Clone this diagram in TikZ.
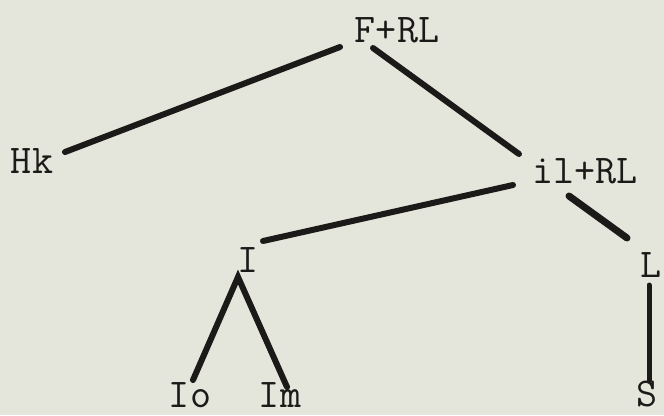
\documentclass[tikz,border=0pt]{standalone}
\usetikzlibrary{calc}
\definecolor{paper}{RGB}{228,230,219}
\definecolor{ink}{RGB}{28,26,24}
\begin{document}
\begin{tikzpicture}[x=1bp,y=-1bp,
  lab/.style={inner sep=0pt,anchor=base,text=ink,font=\fontsize{41}{41}\selectfont\ttfamily},
  edge/.style={draw=ink,line width=6bp,line cap=round}]
\fill[paper] (0,0) rectangle (664,415);
\useasboundingbox (0,0) rectangle (664,415);
\node[lab] (f) at (397,42) {F+RL};
\node[lab] (hk) at (32,173) {Hk};
\node[lab] (il) at (585,183) {il+RL};
\node[lab] (i) at (248,272) {I};
\node[lab] (l) at (651,277) {L};
\node[lab] (io) at (190,407) {Io};
\node[lab] (im) at (280,407) {Im};
\node[lab] (s) at (647,406) {S};
\draw[edge] ($(hk.base)+(33,-21)$) -- ($(f.base)+(-57,5)$);
\draw[edge] ($(f.base)+(-24,6)$) -- ($(il.base)+(-66,-29)$);
\draw[edge] ($(il.base)+(-72,2)$) -- ($(i.base)+(15,-31)$);
\draw[edge,line width=7bp] ($(il.base)+(-16,13)$) -- ($(l.base)+(-24,-39)$);
\draw[edge,line width=5bp] ($(l.base)+(-2,8)$) -- ($(s.base)+(2,-25)$);
\draw[edge] ($(io.base)+(3,-27)$) -- ($(i.base)+(-10,5)$) -- ($(im.base)+(7,-20)$);
\end{tikzpicture}
\end{document}
